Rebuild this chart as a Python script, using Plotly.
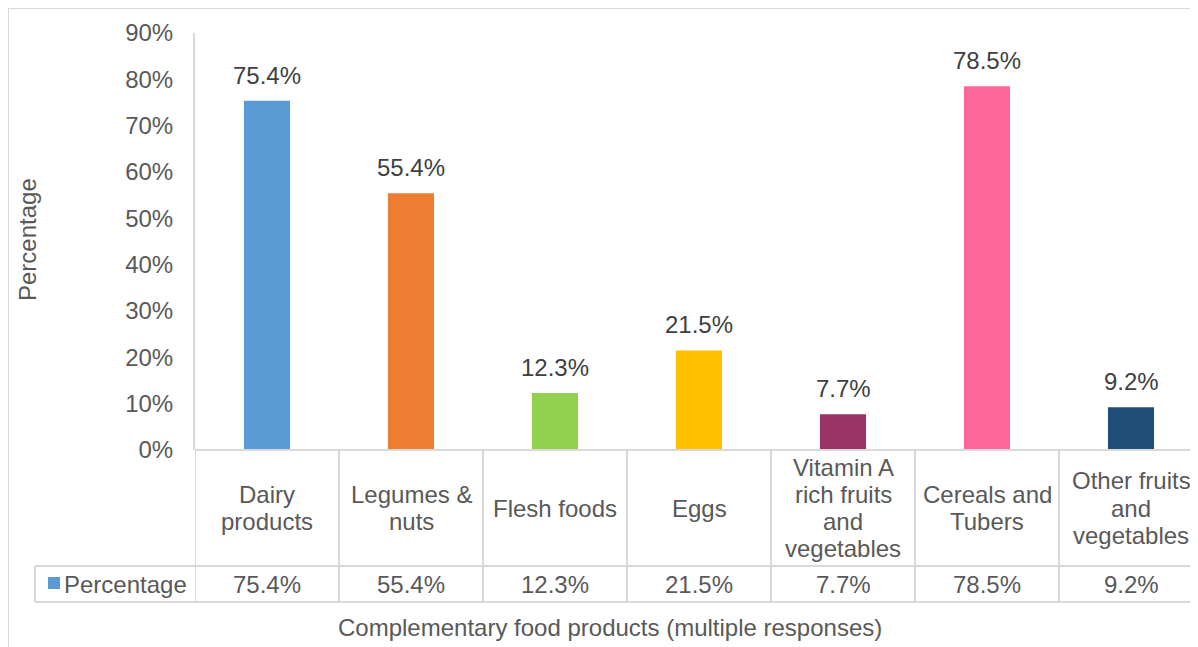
import plotly.graph_objects as go

categories = ["Dairy products", "Legumes & nuts", "Flesh foods", "Eggs",
              "Vitamin A rich fruits and vegetables", "Cereals and Tubers",
              "Other fruits and vegetables"]
category_lines = [["Dairy", "products"], ["Legumes &", "nuts"], ["Flesh foods"], ["Eggs"],
                  ["Vitamin A", "rich fruits", "and", "vegetables"], ["Cereals and", "Tubers"],
                  ["Other fruits", "and", "vegetables"]]
values = [0.754, 0.554, 0.123, 0.215, 0.077, 0.785, 0.092]
colors = ["#5B9BD5", "#ED7D31", "#92D050", "#FFC000", "#993366", "#FF6699", "#1F4E79"]
y_ticks = [0, 0.1, 0.2, 0.3, 0.4, 0.5, 0.6, 0.7, 0.8, 0.9]
y_ticklabels = [f"{int(round(t*100))}%" for t in y_ticks]
series_name = "Percentage"
x_title = "Complementary food products (multiple responses)"
y_title = "Percentage"

OFF = 8  # page body margin
W, H = 1198 - OFF, 647 - OFF
PLOT_L, PLOT_T, PLOT_B = 195, 33, 450  # in page pixels
L, T = PLOT_L - OFF, PLOT_T - OFF
B = H - (PLOT_B - OFF)
R = 0
PW, PH = W - L - R, H - T - B
CAT_W = 144  # pixel width of one category cell (chart continues slightly past window)
X_MAX = -0.5 + PW / CAT_W

def px_x(px):
    return (px - PLOT_L) / PW

def px_y(py):
    return (PLOT_B - py) / PH

FONT = "Liberation Sans, Arial, sans-serif"
FS = 24
GRID = "#D9D9D9"
TXT = "#595959"
LINE_H = 27.3

fig = go.Figure()
fig.add_trace(go.Bar(
    x=list(range(len(categories))), y=values,
    marker=dict(color=colors, line=dict(width=0)),
    width=0.32, name=series_name, showlegend=False,
    hovertext=categories,
))

annotations = []
shapes = []

# data labels
for i, v in enumerate(values):
    annotations.append(dict(x=i, y=v, xref="x", yref="y", text=f"{v*100:.1f}%",
                            showarrow=False, yanchor="bottom", yshift=10,
                            font=dict(family=FONT, size=FS, color="#404040")))

# table: category labels and values
for i, (lines, v) in enumerate(zip(category_lines, values)):
    n = len(lines)
    for k, ln in enumerate(lines):
        cy = 508 + (k - (n - 1) / 2) * LINE_H
        annotations.append(dict(x=i, y=px_y(cy), xref="x", yref="paper", text=ln,
                                showarrow=False, yanchor="middle", xanchor="center",
                                font=dict(family=FONT, size=FS, color=TXT)))
    annotations.append(dict(x=i, y=px_y(584), xref="x", yref="paper", text=f"{v*100:.1f}%",
                            showarrow=False, yanchor="middle", xanchor="center",
                            font=dict(family=FONT, size=FS, color=TXT)))

# legend key in table
shapes.append(dict(type="rect", xref="paper", yref="paper",
                   x0=px_x(48), x1=px_x(60), y0=px_y(589), y1=px_y(577),
                   fillcolor=colors[0], line=dict(width=0)))
annotations.append(dict(x=px_x(62), y=px_y(584), xref="paper", yref="paper",
                        text=series_name, showarrow=False, xanchor="left", yanchor="middle",
                        font=dict(family=FONT, size=FS, color=TXT)))

# table lines
line = dict(color=GRID, width=2)
shapes.append(dict(type="line", xref="paper", yref="paper", x0=0, x1=1,
                   y0=px_y(450), y1=px_y(450), line=line))
for py in (566, 602):
    shapes.append(dict(type="line", xref="paper", yref="paper", x0=px_x(35), x1=1,
                       y0=px_y(py), y1=px_y(py), line=line))
for i in range(len(categories)):
    shapes.append(dict(type="line", xref="x", yref="paper", x0=i - 0.5, x1=i - 0.5,
                       y0=px_y(450), y1=px_y(602), line=line))
shapes.append(dict(type="line", xref="paper", yref="paper", x0=px_x(35), x1=px_x(35),
                   y0=px_y(566), y1=px_y(602), line=line))

# outer chart border
shapes.append(dict(type="line", xref="paper", yref="paper", x0=px_x(8), x1=px_x(8),
                   y0=px_y(8), y1=px_y(660), line=line))
shapes.append(dict(type="line", xref="paper", yref="paper", x0=px_x(8), x1=px_x(1210),
                   y0=px_y(8), y1=px_y(8), line=line))

# axis titles
annotations.append(dict(x=px_x(610), y=px_y(627), xref="paper", yref="paper",
                        text=x_title, showarrow=False, xanchor="center", yanchor="middle",
                        font=dict(family=FONT, size=FS, color=TXT)))
annotations.append(dict(x=px_x(27), y=px_y(240), xref="paper", yref="paper",
                        text=y_title, showarrow=False, textangle=-90,
                        xanchor="center", yanchor="middle",
                        font=dict(family=FONT, size=FS, color=TXT)))

fig.update_layout(
    width=W, height=H,
    margin=dict(l=L, r=R, t=T, b=B),
    paper_bgcolor="white", plot_bgcolor="white",
    showlegend=False,
    xaxis=dict(range=[-0.5, X_MAX], showticklabels=False,
               showgrid=False, zeroline=False, showline=False, fixedrange=True),
    yaxis=dict(range=[0, 0.9], tickvals=y_ticks, ticktext=y_ticklabels,
               showgrid=False, zeroline=False, showline=True, linecolor=GRID, linewidth=2,
               ticks="", ticklabelstandoff=15,
               tickfont=dict(family=FONT, size=FS, color=TXT)),
    annotations=annotations,
    shapes=shapes,
)

fig.write_html("out.html")
